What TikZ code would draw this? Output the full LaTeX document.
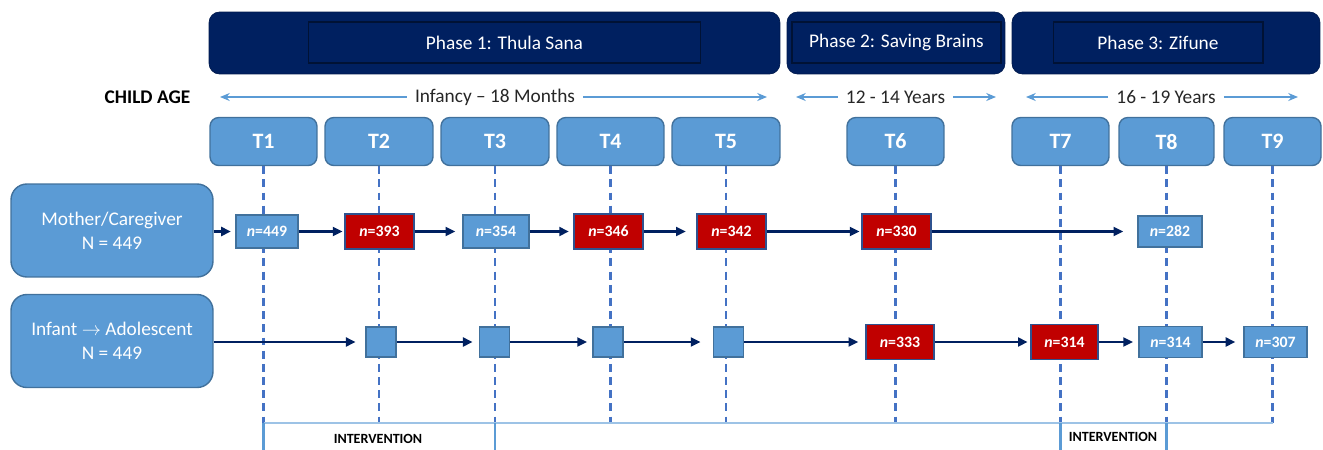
\documentclass[tikz,border=0pt]{standalone}
\usepackage{fontspec}
\setmainfont{Carlito}
\usetikzlibrary{arrows.meta}
\definecolor{navy}{HTML}{002060}
\definecolor{tblue}{HTML}{5B9BD5}
\definecolor{tborder}{HTML}{41719C}
\definecolor{lossred}{HTML}{C00000}
\definecolor{redborder}{HTML}{2F528F}
\definecolor{dashblue}{HTML}{4472C4}
\definecolor{lightblue}{HTML}{9DC3E6}
\definecolor{agetext}{HTML}{262626}

\begin{document}
\begin{tikzpicture}[x=0.02cm,y=-0.02cm]
  \tikzstyle{phase}=[fill=navy, draw=navy!80!black, rounded corners=6pt, minimum height=1.24cm, inner sep=0pt]
  \tikzstyle{phaselabel}=[draw=navy!55!black, line width=0.6pt, minimum height=0.82cm, inner sep=0pt, text=white, font=\fontsize{11}{13}\selectfont]
  \tikzstyle{tbox}=[fill=tblue, draw=tborder, line width=0.8pt, rounded corners=5pt, minimum height=0.96cm, inner sep=0pt, text=white, font=\bfseries\fontsize{12.5}{15}\selectfont]
  \tikzstyle{group}=[fill=tblue, draw=tborder, line width=0.8pt, rounded corners=9pt, minimum width=4.04cm, minimum height=1.86cm, inner sep=0pt, text=white, align=center, font=\fontsize{11}{13.6}\selectfont]
  \tikzstyle{count}=[fill=tblue, draw=tborder, line width=0.8pt, minimum height=0.66cm, inner sep=0pt, text=white, font=\bfseries\fontsize{9}{10}\selectfont]
  \tikzstyle{lost}=[count, fill=lossred, draw=redborder, minimum height=0.70cm]
  \tikzstyle{visit}=[fill=tblue, draw=tborder, line width=0.8pt, minimum size=0.6cm, inner sep=0pt]
  \tikzstyle{flow}=[draw=navy, line width=1.7pt, -{Triangle[length=5.5pt,width=5pt]}, shorten >=2.5pt]
  \tikzstyle{span}=[draw=tblue, line width=1.1pt, -{Stealth[length=5.5pt,width=4.5pt]}]
  \tikzstyle{age}=[inner xsep=4.5pt, inner ysep=0pt, text=agetext, font=\fontsize{11}{13}\selectfont]
  \tikzstyle{wave}=[draw=dashblue, line width=1.5pt, dash pattern=on 4.5pt off 3pt]
  \tikzstyle{bracket}=[draw=lightblue, line width=0.9pt]
  \tikzstyle{note}=[font=\bfseries\fontsize{8}{9}\selectfont]

  \useasboundingbox (0,0) rectangle (1323,450);

  % phases
  \node[phase, minimum width=11.42cm] (p1) at (494.5,43) {};
  \node[phase, minimum width=4.36cm] (p2) at (896,43) {};
  \node[phase, minimum width=6.16cm] (p3) at (1166,43) {};
  \node[phaselabel, minimum width=7.86cm] (p1lbl) at (504.5,42.5) {Phase 1: Thula Sana};
  \node[phaselabel, minimum width=4.18cm] (p2lbl) at (896.5,42.5) {Phase 2: Saving Brains};
  \node[phaselabel, minimum width=4.20cm] (p3lbl) at (1158,42.5) {Phase 3: Zifune};

  % child age
  \node[font=\bfseries\fontsize{11}{13}\selectfont] (childage) at (147.5,97) {CHILD AGE};
  \node[age] (age1) at (495,97) {Infancy – 18 Months};
  \node[age] (age2) at (895.5,97) {12 - 14 Years};
  \node[age] (age3) at (1166,97) {16 - 19 Years};
  \coordinate (age1l) at (220,97);
  \coordinate (age1r) at (767,97);
  \coordinate (age2l) at (796,97);
  \coordinate (age2r) at (996,97);
  \coordinate (age3l) at (1026,97);
  \coordinate (age3r) at (1298,97);
  \foreach \a in {age1,age2,age3} {
    \draw[span] (\a.west) -- (\a l);
    \draw[span] (\a.east) -- (\a r);
  }

  % time points
  \foreach \name/\x/\w in {T1/263.5/2.14, T2/379/2.16, T3/495/2.16, T4/610.5/2.14, T5/726/2.16,
                           T6/895.5/1.94, T7/1060.5/1.94, T8/1166.5/1.90, T9/1272.5/1.94}
    \node[tbox, minimum width=\w cm] (\name) at (\x,141.5) {\name};

  \coordinate (base) at (0,423);
  \coordinate (bottom) at (0,450);
  \foreach \t in {T1,T2,T3,T4,T5,T6,T7,T8,T9}
    \draw[wave] (\t.south) -- (\t.south |- base);
  \draw[bracket] (T1.south |- base) -- (T9.south |- base);
  \foreach \t in {T1,T3,T7,T8}
    \draw[bracket, draw=tblue, line width=1.2pt] (\t.south |- base) -- (\t.south |- bottom);
  \node[note] (int1) at (378,439) {INTERVENTION};
  \node[note] (int2) at (1113,437) {INTERVENTION};

  % mother / caregiver
  \node[group] (mother) at (112,230.5) {Mother/Caregiver\\N = 449};
  \node[count, minimum width=1.24cm] (m1) at (267,231.5) {\textit{n}=449};
  \node[lost, minimum width=1.38cm] (m2) at (379.5,231.5) {\textit{n}=393};
  \node[count, minimum width=1.32cm] (m3) at (496,231.5) {\textit{n}=354};
  \node[lost, minimum width=1.38cm] (m4) at (608.5,231.5) {\textit{n}=346};
  \node[lost, minimum width=1.38cm] (m5) at (731.5,231.5) {\textit{n}=342};
  \node[lost, minimum width=1.38cm] (m6) at (896.5,231.5) {\textit{n}=330};
  \node[count, minimum width=1.28cm, minimum height=0.62cm] (m7) at (1170,231.5) {\textit{n}=282};
  \draw[flow] (mother.east |- m1) -- (m1.west);
  \draw[flow, shorten >=1pt] (m1.east) -- (m2.west);
  \draw[flow, shorten >=4pt] (m2.east) -- (m3.west);
  \draw[flow] (m3.east) -- (m4.west);
  \draw[flow, shorten >=6pt] (m4.east) -- (m5.west);
  \draw[flow, shorten >=1pt] (m5.east) -- (m6.west);
  \draw[flow, shorten >=8pt] (m6.east) -- (m7.west);

  % infant / adolescent
  \node[group] (infant) at (112,341) {Infant $\rightarrow$ Adolescent\\N = 449};
  \node[visit] (c1) at (381,342) {};
  \node[visit] (c2) at (494.5,342) {};
  \node[visit] (c3) at (608,342) {};
  \node[visit] (c4) at (728.5,342) {};
  \node[lost, minimum width=1.36cm] (c5) at (900,342) {\textit{n}=333};
  \node[lost, minimum width=1.34cm] (c6) at (1064.5,342) {\textit{n}=314};
  \node[count, minimum width=1.26cm, minimum height=0.62cm] (c7) at (1170.5,342) {\textit{n}=314};
  \node[count, minimum width=1.26cm, minimum height=0.62cm] (c8) at (1275.5,342) {\textit{n}=307};
  \draw[flow, shorten >=5.5pt] (infant.east |- c1) -- (c1.west);
  \draw[flow, shorten >=3.5pt] (c1.east) -- (c2.west);
  \draw[flow, shorten >=3pt] (c2.east) -- (c3.west);
  \draw[flow, shorten >=7pt] (c3.east) -- (c4.west);
  \draw[flow, shorten >=4pt] (c4.east) -- (c5.west);
  \draw[flow, shorten >=1.5pt] (c5.east) -- (c6.west);
  \draw[flow, shorten >=3pt] (c6.east) -- (c7.west);
  \draw[flow, shorten >=4.5pt] (c7.east) -- (c8.west);
\end{tikzpicture}
\end{document}
